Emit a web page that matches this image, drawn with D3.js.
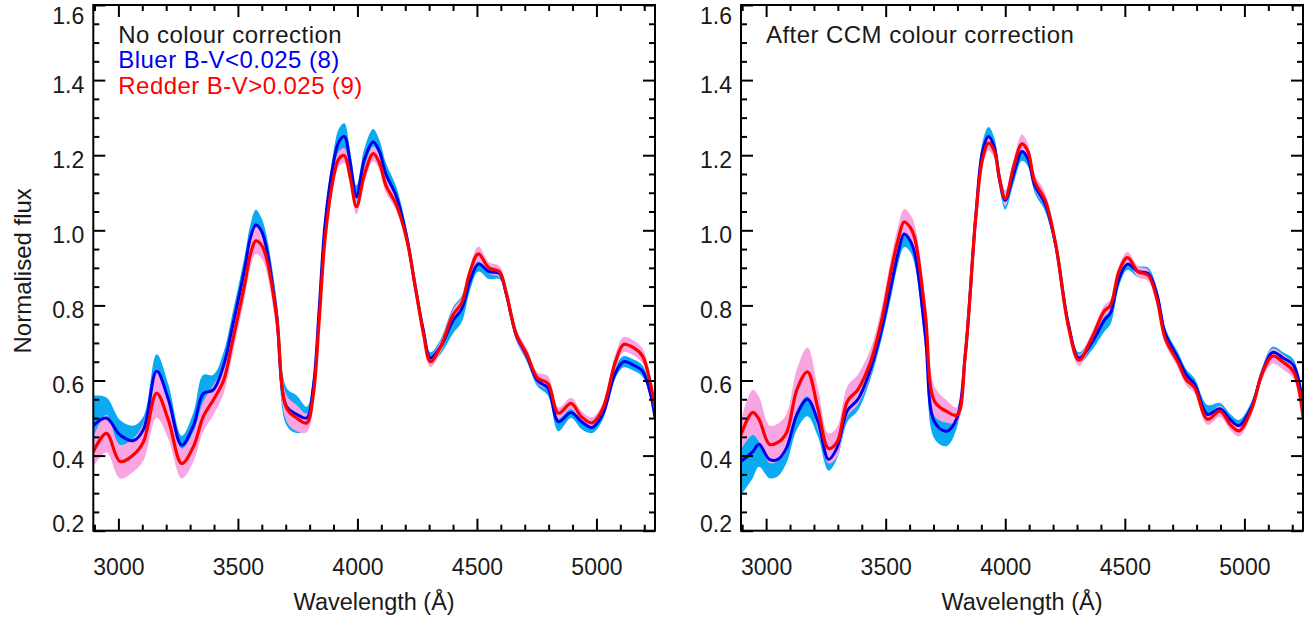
<!DOCTYPE html>
<html><head><meta charset="utf-8">
<script src="https://cdn.jsdelivr.net/npm/d3@7"></script>
<style>
body{margin:0;background:#fff}
text{font-family:"Liberation Sans",Arial,Helvetica,sans-serif}
</style></head>
<body><svg id="chart" width="1309" height="619"></svg>
<script>
// ---------- data ----------
const xMajorTicks = [3000, 3500, 4000, 4500, 5000];
const yMajorTicks = [0.2, 0.4, 0.6, 0.8, 1.0, 1.2, 1.4, 1.6];
const xDomain = [2895, 5245];
const yDomain = [0.2, 1.6];

const panelTitles = ["No colour correction", "After CCM colour correction"];
const legendLabels = ["Bluer B-V<0.025 (8)", "Redder B-V>0.025 (9)"];

// Left panel: no colour correction
const leftWl = [2895,2950,3007,3063,3105,3160,3209,3265,3314,3355,3397,3440,3476,3529,3552,3575,3597,3617,3661,3704,3746,3788,3815,3840,3865,3900,3922,3945,3970,3996,4030,4066,4092,4119,4163,4207,4242,4277,4305,4348,4400,4436,4471,4506,4550,4594,4621,4665,4709,4753,4797,4841,4894,4938,4982,5026,5079,5114,5158,5193,5228,5245];
const leftRed = [0.41,0.459,0.384,0.402,0.437,0.566,0.495,0.379,0.424,0.504,0.548,0.60,0.70,0.858,0.935,0.972,0.962,0.932,0.775,0.526,0.50,0.487,0.56,0.76,0.98,1.141,1.19,1.199,1.14,1.063,1.15,1.204,1.18,1.12,1.068,0.974,0.85,0.722,0.65,0.69,0.775,0.806,0.89,0.937,0.90,0.89,0.838,0.722,0.67,0.607,0.592,0.513,0.539,0.503,0.487,0.524,0.649,0.696,0.686,0.665,0.586,0.524];
const leftRedErr = [0.04,0.05,0.045,0.045,0.05,0.065,0.05,0.04,0.04,0.04,0.04,0.035,0.035,0.035,0.035,0.035,0.035,0.035,0.04,0.035,0.035,0.025,0.02,0.02,0.02,0.02,0.02,0.02,0.02,0.02,0.02,0.02,0.02,0.02,0.015,0.015,0.015,0.015,0.015,0.015,0.015,0.015,0.015,0.02,0.015,0.015,0.015,0.015,0.015,0.015,0.02,0.015,0.015,0.015,0.015,0.015,0.02,0.02,0.02,0.02,0.02,0.015];
const leftBlue = [0.48,0.50,0.455,0.44,0.47,0.625,0.55,0.428,0.48,0.565,0.575,0.64,0.74,0.90,0.98,1.015,1.0,0.96,0.78,0.53,0.51,0.50,0.58,0.79,1.02,1.18,1.235,1.25,1.18,1.09,1.19,1.235,1.21,1.15,1.09,0.98,0.85,0.73,0.66,0.69,0.76,0.79,0.865,0.91,0.89,0.885,0.835,0.72,0.665,0.60,0.58,0.49,0.515,0.49,0.475,0.51,0.62,0.65,0.64,0.625,0.56,0.50];
const leftBlueErr = [0.08,0.055,0.04,0.04,0.035,0.045,0.04,0.025,0.035,0.05,0.04,0.035,0.035,0.035,0.035,0.04,0.035,0.035,0.04,0.05,0.05,0.03,0.03,0.03,0.025,0.03,0.035,0.035,0.03,0.03,0.03,0.035,0.03,0.03,0.025,0.02,0.015,0.015,0.015,0.02,0.035,0.035,0.025,0.02,0.02,0.015,0.015,0.015,0.015,0.015,0.02,0.025,0.015,0.02,0.015,0.015,0.015,0.015,0.015,0.015,0.015,0.015];

// Right panel: after CCM colour correction
const rightWl = [2895,2944,2970,3014,3049,3085,3129,3173,3217,3261,3296,3340,3384,3437,3481,3525,3552,3577,3600,3621,3666,3704,3754,3798,3833,3877,3905,3930,3955,3975,4000,4035,4070,4095,4123,4167,4211,4264,4308,4361,4414,4440,4475,4511,4555,4598,4634,4669,4722,4757,4792,4845,4898,4942,4977,5030,5074,5118,5162,5206,5245];
const rightRed = [0.456,0.515,0.497,0.43,0.435,0.46,0.576,0.623,0.524,0.419,0.435,0.545,0.576,0.65,0.754,0.90,0.975,1.022,1.01,0.98,0.775,0.545,0.518,0.508,0.67,1.037,1.19,1.232,1.21,1.14,1.084,1.17,1.23,1.21,1.13,1.08,0.963,0.744,0.654,0.712,0.785,0.80,0.89,0.927,0.89,0.88,0.817,0.712,0.649,0.602,0.581,0.497,0.518,0.482,0.466,0.524,0.618,0.665,0.649,0.623,0.503];
const rightRedErr = [0.04,0.06,0.06,0.05,0.05,0.05,0.055,0.065,0.055,0.04,0.04,0.04,0.04,0.035,0.035,0.035,0.035,0.035,0.035,0.035,0.04,0.04,0.03,0.02,0.02,0.02,0.02,0.02,0.02,0.02,0.02,0.02,0.025,0.02,0.02,0.02,0.015,0.015,0.015,0.015,0.015,0.015,0.015,0.015,0.015,0.015,0.015,0.015,0.015,0.015,0.015,0.015,0.015,0.015,0.015,0.015,0.015,0.02,0.02,0.02,0.015];
const rightBlue = [0.385,0.41,0.43,0.39,0.39,0.42,0.51,0.55,0.49,0.39,0.42,0.52,0.55,0.63,0.73,0.86,0.94,0.99,0.975,0.94,0.72,0.49,0.465,0.50,0.67,1.04,1.21,1.25,1.22,1.14,1.08,1.15,1.21,1.19,1.12,1.07,0.96,0.75,0.66,0.70,0.76,0.78,0.87,0.91,0.89,0.885,0.83,0.725,0.66,0.615,0.59,0.51,0.525,0.495,0.48,0.53,0.62,0.675,0.66,0.64,0.53];
const rightBlueErr = [0.09,0.07,0.06,0.05,0.045,0.04,0.04,0.045,0.04,0.03,0.03,0.03,0.03,0.025,0.025,0.03,0.03,0.035,0.03,0.03,0.04,0.045,0.04,0.025,0.02,0.02,0.025,0.025,0.025,0.025,0.025,0.025,0.025,0.02,0.02,0.02,0.015,0.015,0.015,0.02,0.03,0.03,0.02,0.015,0.015,0.015,0.015,0.015,0.015,0.015,0.015,0.025,0.015,0.015,0.015,0.015,0.015,0.015,0.015,0.015,0.02];

// ---------- drawing ----------
const svg = d3.select("#chart");
const yTop = 5, yBottom = 530.7;
const panels = [
  {x0: 93.3, x1: 655, wl: leftWl, red: leftRed, redErr: leftRedErr, blue: leftBlue, blueErr: leftBlueErr, title: panelTitles[0], legend: true, ylabel: true},
  {x0: 741, x1: 1303, wl: rightWl, red: rightRed, redErr: rightRedErr, blue: rightBlue, blueErr: rightBlueErr, title: panelTitles[1], legend: false, ylabel: false}
];

const C = {
  blueBand: "#0aabf2",
  pinkBand: "#f8a5e2",
  blueLine: "#0000f0",
  redLine: "#ff0000",
  text: "#1a1a1a"
};

const curve = d3.curveCatmullRom.alpha(0.5);
const xMinor = d3.range(2900, 5250, 100).filter(v => !xMajorTicks.includes(v));
const yMinor = d3.range(0.25, 1.6, 0.05).map(v => +v.toFixed(2)).filter(v => Math.abs(v*5 - Math.round(v*5)) > 1e-6);

panels.forEach((p, pi) => {
  const x = d3.scaleLinear().domain(xDomain).range([p.x0, p.x1]);
  const y = d3.scaleLinear().domain(yDomain).range([yBottom, yTop]);
  const g = svg.append("g");
  const clipId = "clip" + pi;
  svg.append("clipPath").attr("id", clipId).append("rect")
    .attr("x", p.x0).attr("y", yTop).attr("width", p.x1 - p.x0).attr("height", yBottom - yTop);
  const plot = g.append("g").attr("clip-path", `url(#${clipId})`);

  const idx = d3.range(p.wl.length);
  const area = (mean, err) => d3.area()
    .x(i => x(p.wl[i])).y0(i => y(mean[i] - err[i])).y1(i => y(mean[i] + err[i]))
    .curve(curve)(idx);
  const line = (mean) => d3.line()
    .x(i => x(p.wl[i])).y(i => y(mean[i])).curve(curve)(idx);

  plot.append("path").attr("d", area(p.blue, p.blueErr)).attr("fill", C.blueBand);
  plot.append("path").attr("d", area(p.red, p.redErr)).attr("fill", C.pinkBand);
  plot.append("path").attr("d", line(p.blue)).attr("fill", "none").attr("stroke", C.blueLine).attr("stroke-width", 3);
  plot.append("path").attr("d", line(p.red)).attr("fill", "none").attr("stroke", C.redLine).attr("stroke-width", 3.2);

  // frame
  g.append("rect").attr("x", p.x0).attr("y", yTop).attr("width", p.x1 - p.x0).attr("height", yBottom - yTop)
    .attr("fill", "none").attr("stroke", "#000").attr("stroke-width", 2);

  const styleAxis = sel => {
    sel.select(".domain").remove();
    sel.selectAll(".tick line").attr("stroke", "#000").attr("stroke-width", 2);
    sel.selectAll("text").attr("fill", C.text).style("font-size", "23px")
      .style("font-family", '"Liberation Sans", Arial, sans-serif');
  };

  // bottom axis with labels
  const xb = g.append("g").attr("transform", `translate(0,${yBottom})`)
    .call(d3.axisBottom(x).tickValues(xMajorTicks).tickSizeInner(-12).tickSizeOuter(0).tickPadding(28).tickFormat(d3.format("d")));
  styleAxis(xb);
  g.append("g").attr("transform", `translate(0,${yBottom})`)
    .call(d3.axisBottom(x).tickValues(xMinor).tickSizeInner(-6).tickSizeOuter(0).tickFormat("")).call(styleAxis);
  // top axis
  g.append("g").attr("transform", `translate(0,${yTop})`)
    .call(d3.axisTop(x).tickValues(xMajorTicks).tickSizeInner(-12).tickSizeOuter(0).tickFormat("")).call(styleAxis);
  g.append("g").attr("transform", `translate(0,${yTop})`)
    .call(d3.axisTop(x).tickValues(xMinor).tickSizeInner(-6).tickSizeOuter(0).tickFormat("")).call(styleAxis);

  // left axis with labels
  const yl = g.append("g").attr("transform", `translate(${p.x0},0)`)
    .call(d3.axisLeft(y).tickValues(yMajorTicks).tickSizeInner(-12).tickSizeOuter(0).tickPadding(9).tickFormat(d3.format(".1f")));
  styleAxis(yl);
  yl.selectAll(".tick text").attr("dy", null).attr("y", d => d === 1.6 ? 18.3 : (d === 0.2 ? 1 : 12));
  g.append("g").attr("transform", `translate(${p.x0},0)`)
    .call(d3.axisLeft(y).tickValues(yMinor).tickSizeInner(-6).tickSizeOuter(0).tickFormat("")).call(styleAxis);
  // right axis
  g.append("g").attr("transform", `translate(${p.x1},0)`)
    .call(d3.axisRight(y).tickValues(yMajorTicks).tickSizeInner(-12).tickSizeOuter(0).tickFormat("")).call(styleAxis);
  g.append("g").attr("transform", `translate(${p.x1},0)`)
    .call(d3.axisRight(y).tickValues(yMinor).tickSizeInner(-6).tickSizeOuter(0).tickFormat("")).call(styleAxis);

  // x title
  g.append("text").attr("x", (p.x0 + p.x1) / 2).attr("y", 609.5).attr("text-anchor", "middle")
    .attr("fill", C.text).style("font-size", "23.5px").text("Wavelength (Å)");

  // panel title / legend
  const lx = p.x0 + 25;
  const legendText = (yy, col, txt) => g.append("text").attr("x", lx).attr("y", yy).attr("fill", col)
    .style("font-size", "24px").style("letter-spacing", "0.45px").text(txt);
  legendText(42.7, C.text, p.title);
  if (p.legend) {
    legendText(67.7, C.blueLine, legendLabels[0]);
    legendText(94, C.redLine, legendLabels[1]);
  }
  if (p.ylabel) {
    g.append("text").attr("transform", `translate(30.5,${(yTop + yBottom) / 2 + 3}) rotate(-90)`)
      .attr("text-anchor", "middle").attr("fill", C.text).style("font-size", "24px").text("Normalised flux");
  }
});
</script>
</body></html>
